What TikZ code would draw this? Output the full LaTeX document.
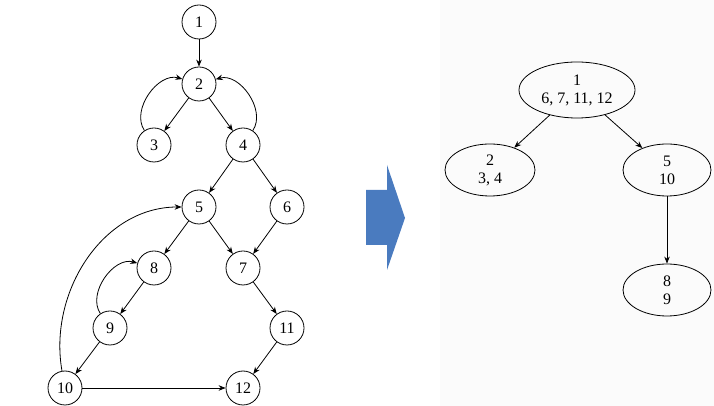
\documentclass[tikz,border=0pt]{standalone}
\usepackage{fontspec}
\setmainfont{Liberation Serif}
\usetikzlibrary{shapes.geometric,arrows.meta}

\begin{document}
\begin{tikzpicture}[x=1pt,y=1pt,line width=0.8pt,>={Stealth[length=7pt,width=5.5pt]},
  every node/.style={font=\fontsize{16}{18}\selectfont}]
\useasboundingbox (0,0) rectangle (714,406);
\fill[gray!3] (440,0) rectangle (714,406);
\tikzset{vtx/.style={shape=circle,minimum size=34pt,inner sep=0pt,draw},
  blk/.style={shape=ellipse,draw,align=center,inner sep=1pt}}
% flow graph
\path (199,384) node (n1) [vtx] {1};
\path (199,322) node (n2) [vtx] {2};
\path (154,261) node (n3) [vtx] {3};
\path (243,261) node (n4) [vtx] {4};
\path (199,199) node (n5) [vtx] {5};
\path (287,199) node (n6) [vtx] {6};
\path (243,138) node (n7) [vtx] {7};
\path (154,138) node (n8) [vtx] {8};
\path (110,78) node (n9) [vtx] {9};
\path (287,78) node (n11) [vtx] {11};
\path (65,18) node (n10) [vtx] {10};
\path (243,18) node (n12) [vtx] {12};

\draw [->] (n1) to (n2);
\draw [->] (n2) to (n3);
\draw [->] (n2) to (n4);
\draw [->] (n3) to [bend left=70] (n2);
\draw [->] (n4) to [bend right=70] (n2);
\draw [->] (n4) to (n5);
\draw [->] (n4) to (n6);
\draw [->] (n5) to (n7);
\draw [->] (n6) to (n7);
\draw [->] (n5) to (n8);
\draw [->] (n8) to (n9);
\draw [->] (n9) to [bend left=70] (n8);
\draw [->] (n9) to (n10);
\draw [->] (n10) to (n12);
\draw [->] (n10) to [out=100,in=180] (n5);
\draw [->] (n7) to (n11);
\draw [->] (n11) to (n12);

% arrow
\fill[fill={rgb,255:red,74;green,123;blue,191}]
  (366,161) -- (366,216) -- (387,216) -- (387,241) -- (405,188)
  -- (387,136) -- (387,161) -- cycle;

% tree
\path (577,316) node (t1) [blk,minimum width=116pt,minimum height=56pt] {1\\6, 7, 11, 12};
\path (490,236) node (t2) [blk,minimum width=90pt,minimum height=52pt] {2\\3, 4};
\path (667,236) node (t5) [blk,minimum width=88pt,minimum height=52pt] {5\\10};
\path (667,116) node (t8) [blk,minimum width=88pt,minimum height=52pt] {8\\9};

\draw [->] (t1) to (t2);
\draw [->] (t1) to (t5);
\draw [->] (t5) to (t8);
\end{tikzpicture}
\end{document}
